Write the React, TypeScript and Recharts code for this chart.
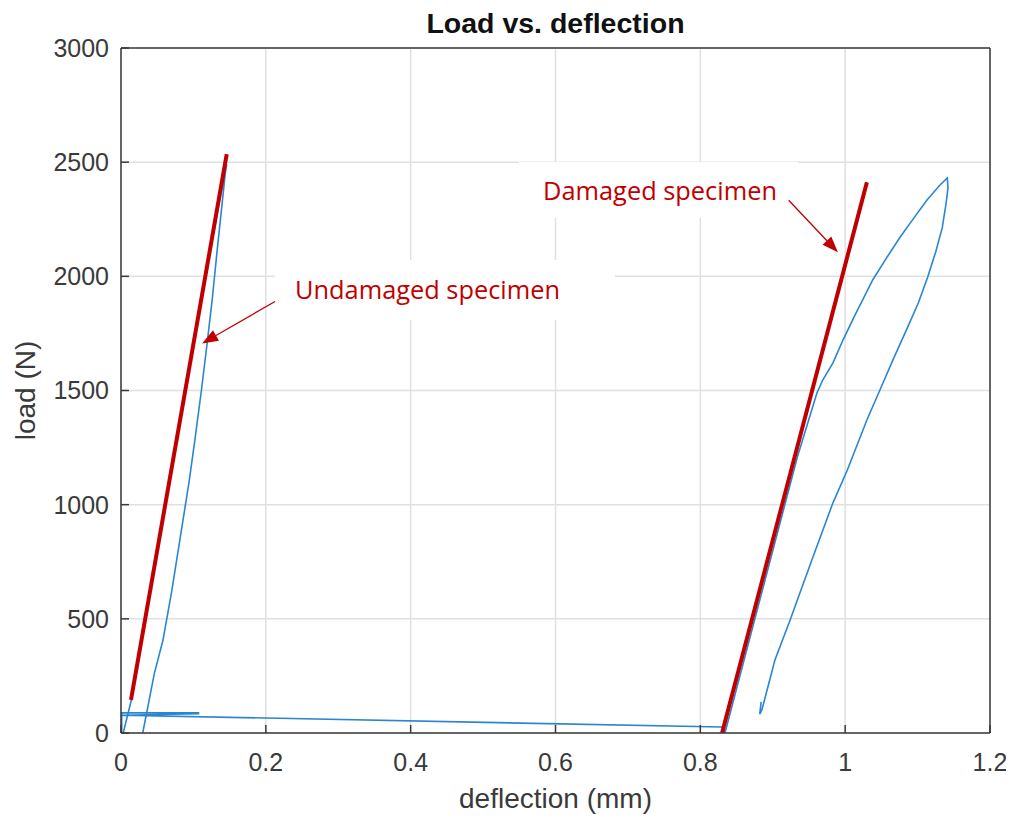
import {
  CartesianGrid,
  ComposedChart,
  Line,
  ReferenceArea,
  ReferenceLine,
  XAxis,
  YAxis,
} from "recharts";

const xTicks = [0, 0.2, 0.4, 0.6, 0.8, 1, 1.2];
const yTicks = [0, 500, 1000, 1500, 2000, 2500, 3000];

// undamaged specimen: loading, then unloading (behind the fit line)
const undamagedDefl = [0.03, 0.038, 0.046, 0.058, 0.07, 0.082, 0.094, 0.102, 0.111, 0.119, 0.126, 0.133, 0.139, 0.144, 0.146, 0.14, 0.119, 0.089, 0.059, 0.029, 0.014, 0.003];
const undamagedLoad = [0, 130, 260, 407, 620, 860, 1100, 1283, 1500, 1708, 1900, 2120, 2300, 2452, 2490, 2400, 2040, 1500, 960, 420, 140, 0];

// crosshead travel between the two tests
const travelDefl = [0.003, 0.001, 0.001, 0.107, 0.107, 0, 0.83, 0.834];
const travelLoad = [0, 0, 88, 88, 84, 78, 26, 0];

// damaged specimen: loading + unloading loop
const damagedDefl = [0.834, 0.884, 0.934, 0.961, 0.969, 0.983, 0.997, 1.012, 1.038, 1.057, 1.076, 1.095, 1.113, 1.131, 1.141, 1.142, 1.139, 1.134, 1.125, 1.114, 1.101, 1.084, 1.066, 1.048, 1.03, 1.003, 0.983, 0.954, 0.924, 0.903, 0.885, 0.882, 0.884];
const damagedLoad = [0, 605, 1209, 1489, 1546, 1620, 1721, 1820, 1984, 2080, 2172, 2256, 2334, 2400, 2431, 2387, 2312, 2212, 2107, 1997, 1883, 1761, 1634, 1502, 1371, 1152, 1007, 758, 495, 320, 101, 83, 136];

// stiffness fit lines
const undamagedFitDefl = [0.0138, 0.146];
const undamagedFitLoad = [145, 2535];
const damagedFitDefl = [0.83, 1.03];
const damagedFitLoad = [0, 2412];

// annotation arrows [from, to]
const undamagedArrowDefl = [0.2127, 0.112];
const undamagedArrowLoad = [1890, 1706];
const damagedArrowDefl = [0.922, 0.99];
const damagedArrowLoad = [2333, 2105];

// annotation label boxes [x1, x2], [y1, y2]
const undamagedBoxDefl = [0.2127, 0.6822];
const undamagedBoxLoad = [1809, 2072];
const damagedBoxDefl = [0.5496, 0.9349];
const damagedBoxLoad = [2256, 2501];

const zip = (xs: number[], ys: number[]) => xs.map((x, i) => ({ x, y: ys[i] }));

const RED = "#c00000";
const BLUE = "#2a86d2";
const AXIS = "#3a3a3a";
const TICK_FONT = "'Liberation Sans', Arial, sans-serif";
const NOTE_FONT = "'Open Sans', sans-serif";

function Arrow(props: any) {
  const { x1, y1, x2, y2 } = props;
  const dx = x2 - x1;
  const dy = y2 - y1;
  const len = Math.sqrt(dx * dx + dy * dy);
  const ux = dx / len;
  const uy = dy / len;
  const hl = 16;
  const hw = 6;
  const bx = x2 - ux * hl;
  const by = y2 - uy * hl;
  const pts = `${x2},${y2} ${bx - uy * hw},${by + ux * hw} ${bx + uy * hw},${by - ux * hw}`;
  return (
    <g>
      <line x1={x1} y1={y1} x2={bx} y2={by} stroke={RED} strokeWidth={1.3} />
      <polygon points={pts} fill={RED} />
    </g>
  );
}

const noteLabel = (text: string, dx: number, dy: number, width: number) => (props: any) => {
  const vb = props.viewBox;
  return (
    <text
      x={vb.x + dx}
      y={vb.y + dy}
      fill={RED}
      fontFamily={NOTE_FONT}
      fontSize={25}
      textLength={width}
      lengthAdjust="spacingAndGlyphs"
    >
      {text}
    </text>
  );
};

export default function App() {
  return (
    <ComposedChart
      width={1000}
      height={810}
      margin={{ top: 39, right: 17, left: 13, bottom: 25 }}
    >
      <CartesianGrid stroke="#e0e0e0" strokeWidth={1.5} />
      <XAxis
        xAxisId={0}
        type="number"
        dataKey="x"
        domain={[0, 1.2]}
        ticks={xTicks}
        allowDataOverflow
        height={60}
        tickSize={-8}
        tickMargin={28}
        stroke={AXIS}
        strokeWidth={1.5}
        tick={{ fill: AXIS, fontSize: 25, fontFamily: TICK_FONT }}
        tickFormatter={(v: number) => String(v)}
        label={(p: any) => (
          <text
            x={p.viewBox.x + p.viewBox.width / 2}
            y={p.viewBox.y + 75}
            textAnchor="middle"
            fill={AXIS}
            fontSize={28}
            fontFamily={TICK_FONT}
          >
            deflection (mm)
          </text>
        )}
      />
      <XAxis
        xAxisId="top"
        orientation="top"
        type="number"
        dataKey="x"
        domain={[0, 1.2]}
        ticks={xTicks}
        allowDataOverflow
        height={1}
        tickSize={-8}
        tick={false}
        stroke={AXIS}
        strokeWidth={1.5}
        label={(p: any) => (
          <text
            x={p.viewBox.x + p.viewBox.width / 2}
            y={25}
            textAnchor="middle"
            fill="#111"
            fontSize={28.5}
            fontWeight="bold"
            fontFamily={TICK_FONT}
          >
            Load vs. deflection
          </text>
        )}
      />
      <YAxis
        yAxisId={0}
        type="number"
        domain={[0, 3000]}
        ticks={yTicks}
        allowDataOverflow
        width={100}
        tickSize={-8}
        tickMargin={20}
        stroke={AXIS}
        strokeWidth={1.5}
        tick={{ fill: AXIS, fontSize: 25, fontFamily: TICK_FONT }}
        label={(p: any) => {
          const cx = p.viewBox.x + 14;
          const cy = p.viewBox.y + p.viewBox.height / 2;
          return (
            <text
              x={cx}
              y={cy}
              transform={`rotate(-90 ${cx} ${cy})`}
              textAnchor="middle"
              fill={AXIS}
              fontSize={28}
              fontFamily={TICK_FONT}
            >
              load (N)
            </text>
          );
        }}
      />
      <YAxis
        yAxisId="right"
        orientation="right"
        type="number"
        domain={[0, 3000]}
        ticks={yTicks}
        allowDataOverflow
        width={1}
        tickSize={-8}
        tick={false}
        stroke={AXIS}
        strokeWidth={1.5}
      />

      <ReferenceArea
        x1={undamagedBoxDefl[0]}
        x2={undamagedBoxDefl[1]}
        y1={undamagedBoxLoad[0]}
        y2={undamagedBoxLoad[1]}
        fill="#ffffff"
        fillOpacity={1}
        stroke="none"
        label={noteLabel("Undamaged specimen", 20, 39, 265)}
      />
      <ReferenceArea
        x1={damagedBoxDefl[0]}
        x2={damagedBoxDefl[1]}
        y1={damagedBoxLoad[0]}
        y2={damagedBoxLoad[1]}
        fill="#ffffff"
        fillOpacity={1}
        stroke="none"
        label={noteLabel("Damaged specimen", 24, 38, 234)}
      />

      <Line data={zip(undamagedDefl, undamagedLoad)} dataKey="y" type="linear" stroke={BLUE} strokeWidth={1.6} dot={false} isAnimationActive={false} />
      <Line data={zip(travelDefl, travelLoad)} dataKey="y" type="linear" stroke={BLUE} strokeWidth={1.6} dot={false} isAnimationActive={false} />
      <Line data={zip(damagedDefl, damagedLoad)} dataKey="y" type="linear" stroke={BLUE} strokeWidth={1.6} dot={false} isAnimationActive={false} />
      <Line data={zip(undamagedFitDefl, undamagedFitLoad)} dataKey="y" type="linear" stroke={RED} strokeWidth={4} dot={false} isAnimationActive={false} />
      <Line data={zip(damagedFitDefl, damagedFitLoad)} dataKey="y" type="linear" stroke={RED} strokeWidth={4} dot={false} isAnimationActive={false} />

      <ReferenceLine
        segment={zip(undamagedArrowDefl, undamagedArrowLoad)}
        ifOverflow="visible"
        shape={(p: any) => <Arrow {...p} />}
      />
      <ReferenceLine
        segment={zip(damagedArrowDefl, damagedArrowLoad)}
        ifOverflow="visible"
        shape={(p: any) => <Arrow {...p} />}
      />
    </ComposedChart>
  );
}
